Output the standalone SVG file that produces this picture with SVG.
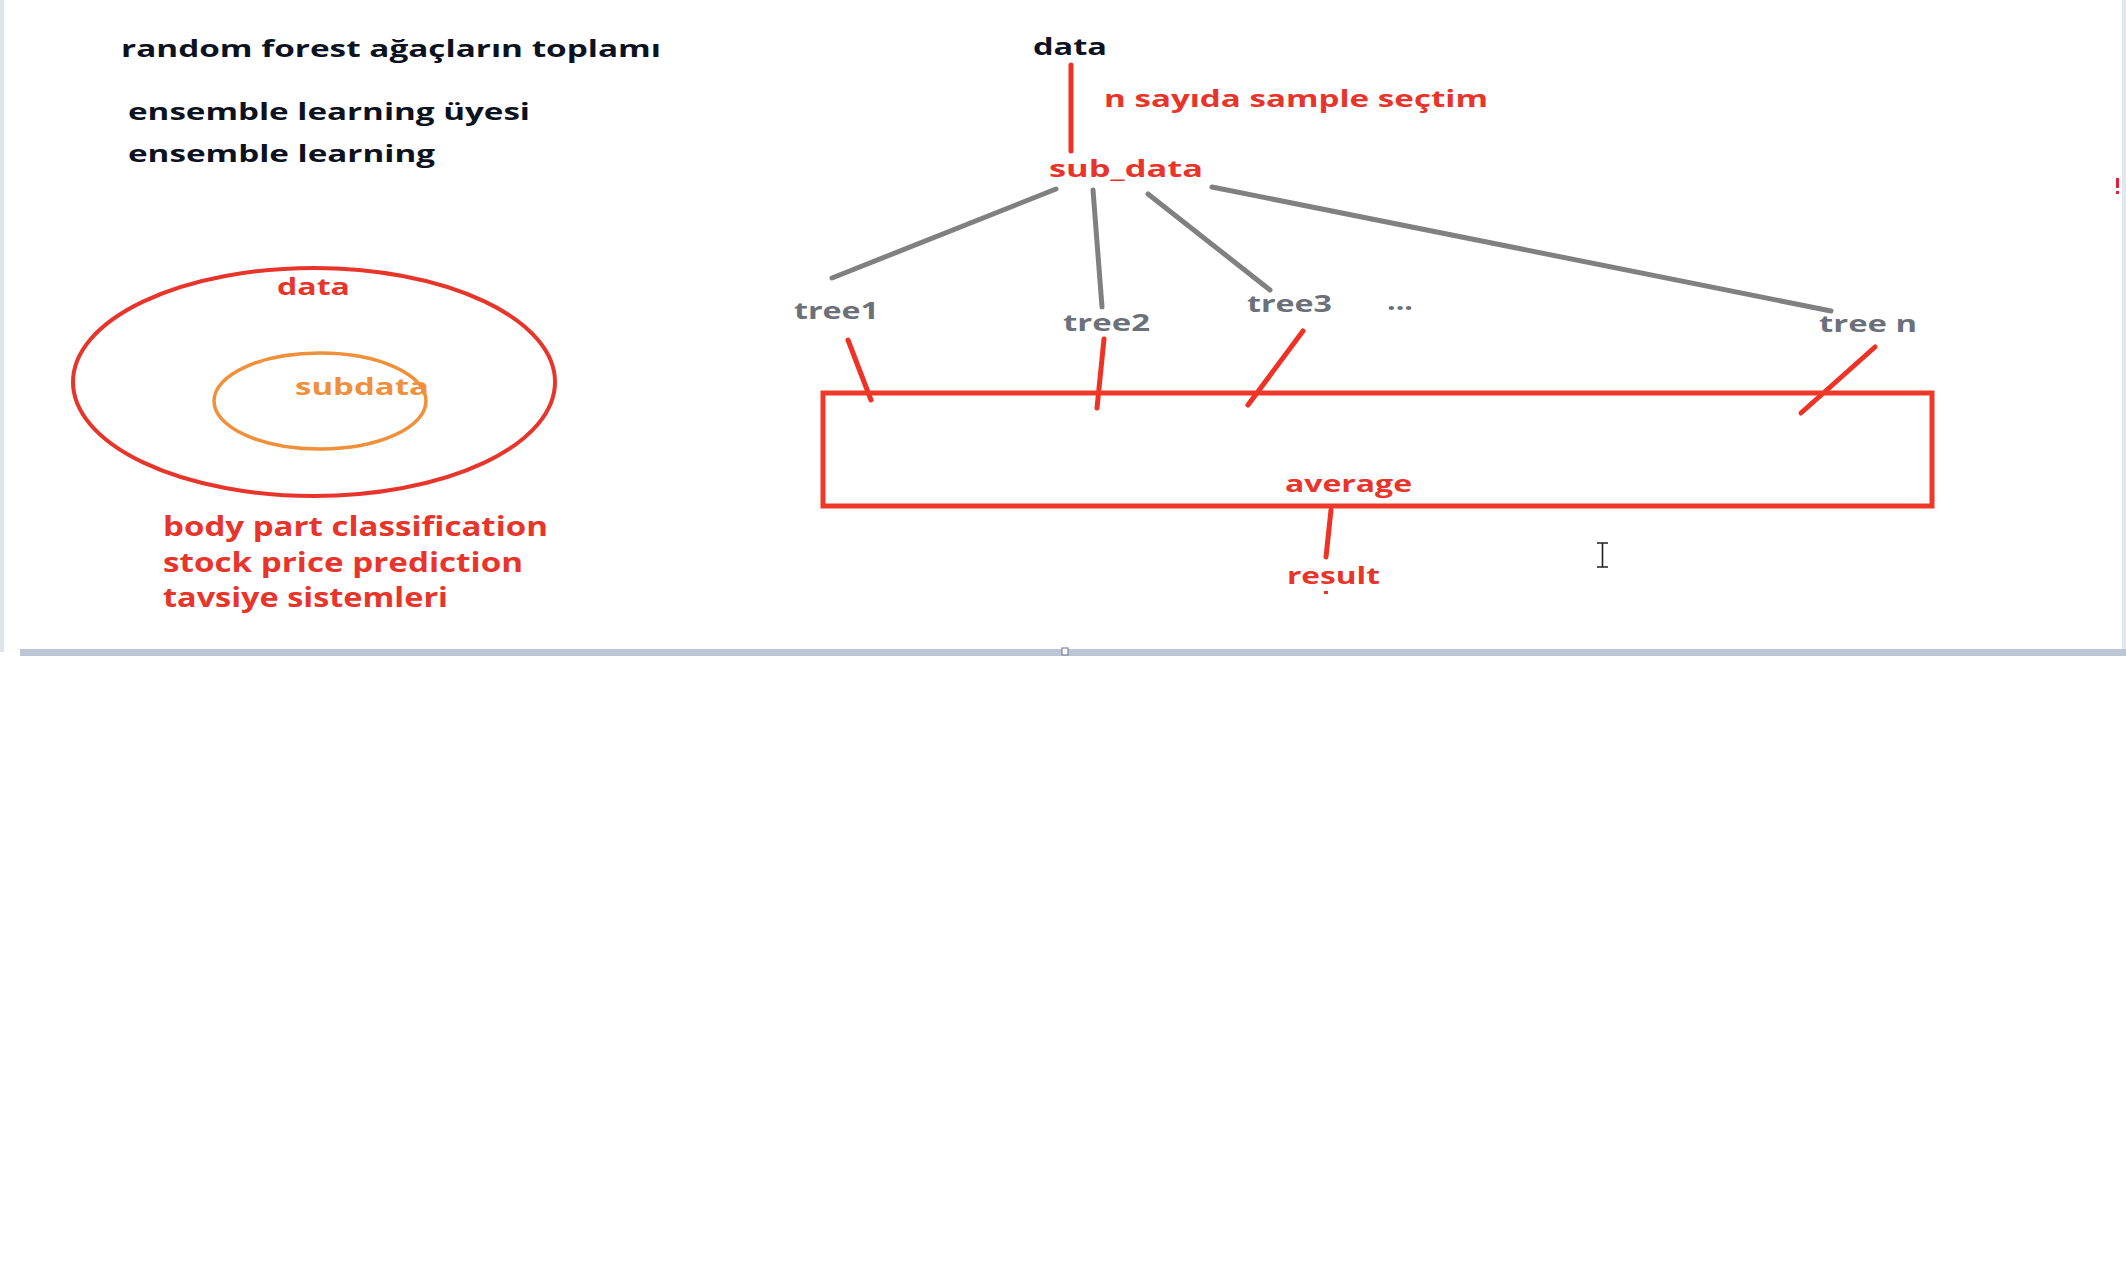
<svg xmlns="http://www.w3.org/2000/svg" width="2126" height="1280" viewBox="0 0 2126 1280">
  <style>
    text { font-family: "Open Sans", "Liberation Sans", sans-serif; font-weight: 700; font-size: 24px; }
    .blk { fill: #0d1220; }
    .red { fill: #e8342a; }
    .gry { fill: #6c7079; }
    .org { fill: #f0903a; }
    .big { font-size: 26px; }
    .gl { stroke: #808080; stroke-width: 5; stroke-linecap: round; fill: none; }
    .rl { stroke: #ee3326; stroke-width: 5; stroke-linecap: round; fill: none; }
  </style>
  <rect width="2126" height="1280" fill="#ffffff"/>
  <!-- window frame -->
  <g id="frame">
    <rect x="0" y="0" width="4" height="652" fill="#dfe3ea"/>
    <rect x="2122" y="0" width="4" height="652" fill="#e4e8ee"/>
    <rect x="20" y="649" width="2106" height="7" fill="#bcc5d5"/>
    <rect x="1062" y="648" width="6" height="7" fill="#ffffff" stroke="#7d8594" stroke-width="1.2"/>
  </g>

  <!-- left notes -->
  <g id="notes">
    <text class="blk" x="121" y="57" textLength="540" lengthAdjust="spacingAndGlyphs">random forest ağaçların toplamı</text>
    <text class="blk" x="128" y="120" textLength="402" lengthAdjust="spacingAndGlyphs">ensemble learning üyesi</text>
    <text class="blk" x="128" y="162" textLength="307" lengthAdjust="spacingAndGlyphs">ensemble learning</text>
  </g>

  <g id="data-ellipse">
    <ellipse cx="314" cy="382" rx="241" ry="114" fill="none" stroke="#e8352b" stroke-width="4"/>
    <text class="red" x="277" y="295" textLength="73" lengthAdjust="spacingAndGlyphs">data</text>
  </g>
  <g id="subdata-ellipse">
    <ellipse cx="320" cy="401" rx="106" ry="48" fill="none" stroke="#f0903a" stroke-width="3.5"/>
    <text class="org" x="295" y="395" textLength="134" lengthAdjust="spacingAndGlyphs">subdata</text>
  </g>

  <g id="applications">
    <text class="red big" x="163" y="536" textLength="385" lengthAdjust="spacingAndGlyphs">body part classification</text>
    <text class="red big" x="163" y="572" textLength="360" lengthAdjust="spacingAndGlyphs">stock price prediction</text>
    <text class="red big" x="163" y="607" textLength="285" lengthAdjust="spacingAndGlyphs">tavsiye sistemleri</text>
  </g>

  <!-- connectors -->
  <g id="connectors">
    <line class="rl" x1="1071" y1="65" x2="1071" y2="151"/>
    <line class="gl" x1="1056" y1="189" x2="832" y2="278"/>
    <line class="gl" x1="1093" y1="190" x2="1102" y2="307"/>
    <line class="gl" x1="1148" y1="194" x2="1270" y2="290"/>
    <line class="gl" x1="1212" y1="187" x2="1831" y2="311"/>
    <line class="rl" x1="848" y1="340" x2="871" y2="400"/>
    <line class="rl" x1="1104" y1="339" x2="1097" y2="408"/>
    <line class="rl" x1="1303" y1="331" x2="1248" y2="405"/>
    <line class="rl" x1="1875" y1="347" x2="1801" y2="413"/>
    <line class="rl" x1="1331" y1="510" x2="1326" y2="557"/>
    <rect x="1324" y="591" width="4" height="3" fill="#ee3326"/>
  </g>

  <!-- right diagram nodes -->
  <g id="node-data">
    <text class="blk" x="1033" y="55" textLength="74" lengthAdjust="spacingAndGlyphs">data</text>
  </g>
  <g id="label-sample">
    <text class="red" x="1104" y="107" textLength="384" lengthAdjust="spacingAndGlyphs">n sayıda sample seçtim</text>
  </g>
  <g id="node-sub_data">
    <text class="red" x="1049" y="177" textLength="154" lengthAdjust="spacingAndGlyphs">sub_data</text>
  </g>
  <g id="node-tree1">
    <text class="gry" x="794" y="319" textLength="85" lengthAdjust="spacingAndGlyphs">tree1</text>
  </g>
  <g id="node-tree2">
    <text class="gry" x="1063" y="331" textLength="87" lengthAdjust="spacingAndGlyphs">tree2</text>
  </g>
  <g id="node-tree3">
    <text class="gry" x="1247" y="312" textLength="85" lengthAdjust="spacingAndGlyphs">tree3</text>
  </g>
  <g id="node-dots">
    <text class="gry" x="1387" y="310" textLength="26" lengthAdjust="spacingAndGlyphs">...</text>
  </g>
  <g id="node-treen">
    <text class="gry" x="1819" y="332" textLength="98" lengthAdjust="spacingAndGlyphs">tree n</text>
  </g>
  <g id="node-average">
    <rect x="823" y="393" width="1109" height="113" fill="none" stroke="#ef3828" stroke-width="5"/>
    <text class="red" x="1285" y="492" textLength="127" lengthAdjust="spacingAndGlyphs">average</text>
  </g>
  <g id="node-result">
    <text class="red" x="1287" y="584" textLength="93" lengthAdjust="spacingAndGlyphs">result</text>
  </g>

  <!-- stray marks -->
  <g id="cursor" stroke="#222" stroke-width="1.6" fill="none">
    <path d="M1597 543 H1608 M1602.5 543 V567 M1597 567 H1608"/>
  </g>
  <g id="edge-mark">
    <rect x="2116" y="178" width="3" height="10" fill="#e0203a"/>
    <rect x="2116" y="191" width="3" height="3" fill="#e0203a"/>
  </g>
</svg>
